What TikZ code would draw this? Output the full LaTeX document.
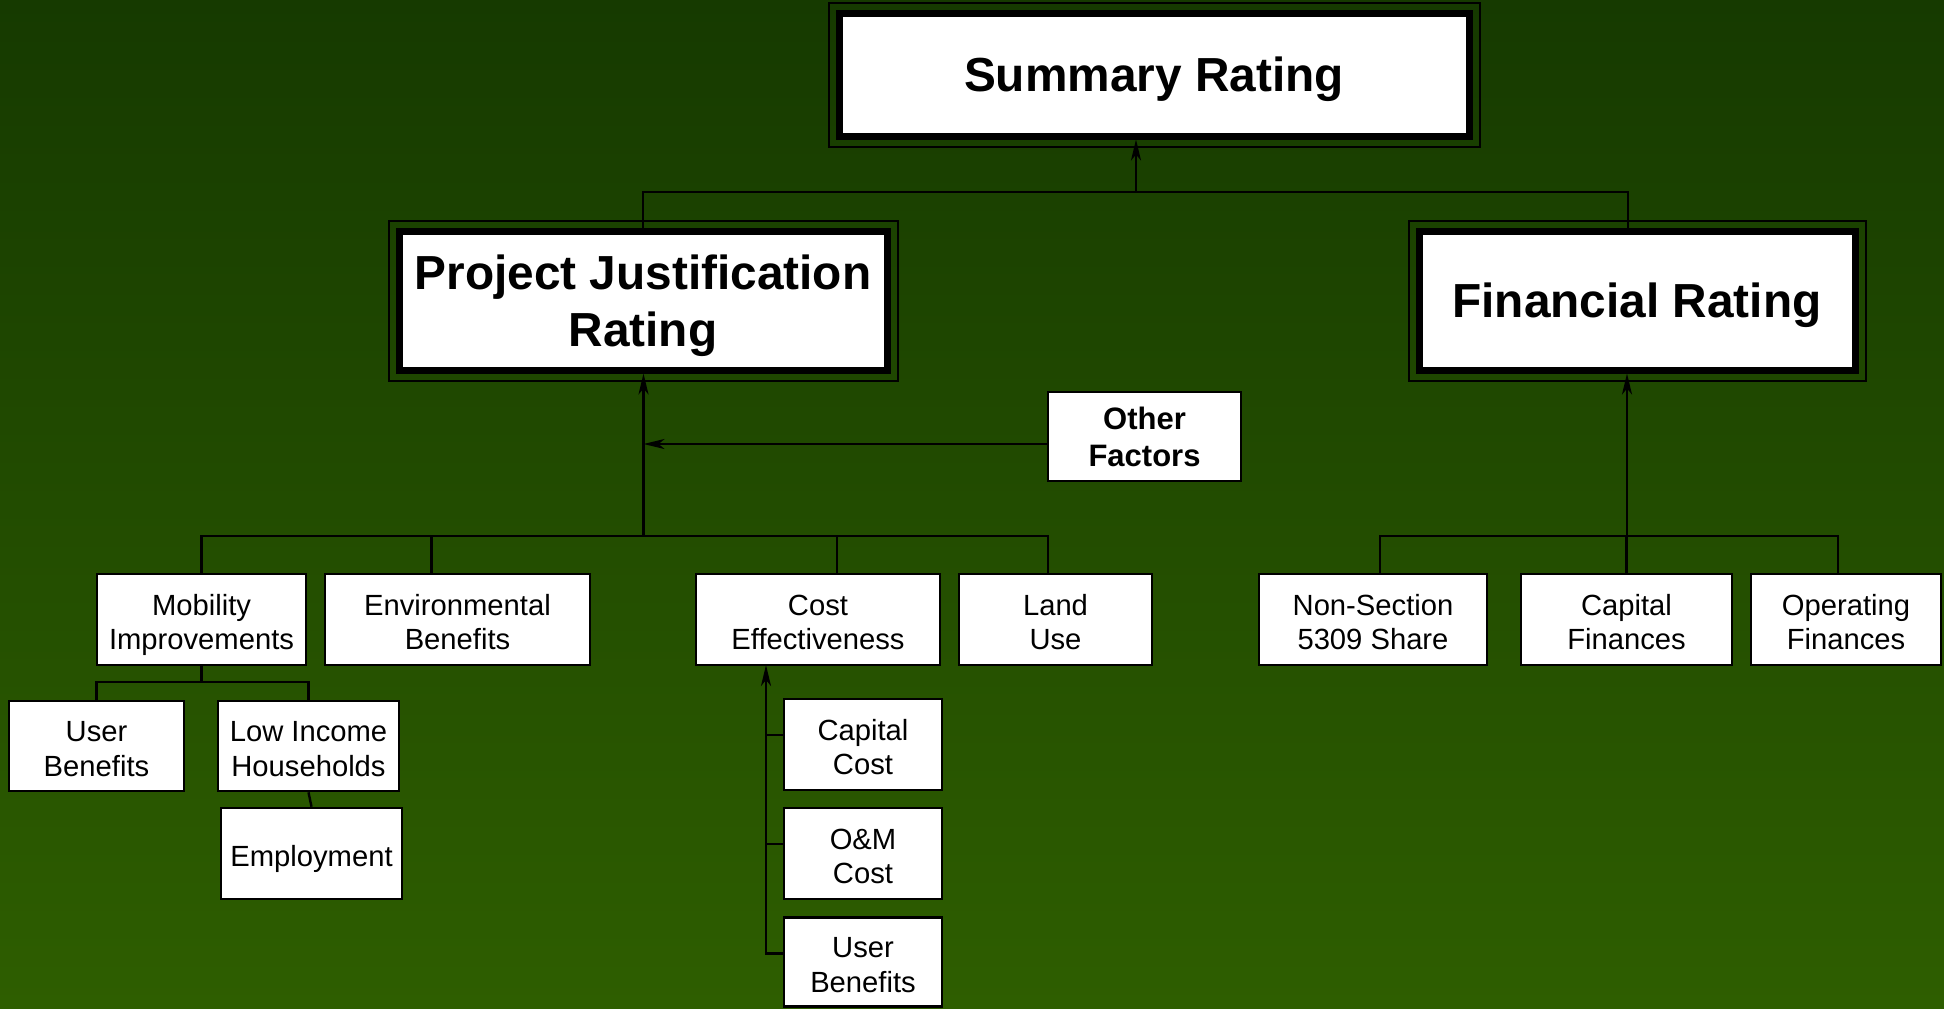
\documentclass[tikz,border=0pt]{standalone}
\usepackage{fontspec}
\setmainfont{Liberation Sans}
\usetikzlibrary{arrows.meta}
\definecolor{bgtop}{RGB}{22,58,0}
\definecolor{bgbottom}{RGB}{46,94,0}
\newcommand{\boxlines}[1]{\rule{0pt}{1.127em}#1\rule[-0.24em]{0pt}{0.24em}}
\newcommand{\titlelines}[1]{\rule{0pt}{0.956em}#1\rule[-0.24em]{0pt}{0.24em}}

\begin{document}
\begin{tikzpicture}[x=0.5pt,y=-0.5pt]
            \tikzset{box/.style = {shape=rectangle,draw,fill=white,line width=1.3pt,inner sep=0pt,align=center,
                    minimum height=45.5pt,font=\fontsize{14.6}{17.4}\selectfont}}
            \tikzset{bigbox/.style = {box,line width=3.5pt,minimum height=69.5pt,font=\bfseries\fontsize{23.9}{28.5}\selectfont}}
            \tikzset{frame/.style = {draw,line width=1pt}}
            \tikzset{link/.style = {line width=1.2pt}}
            \tikzset{edge/.style = {link,->,> = {Stealth[length=10.5pt,width=5pt,inset=3pt]}}}
            \useasboundingbox (0,0) rectangle (1944,1008);
            \shade[top color=bgtop,bottom color=bgbottom] (0,0) rectangle (1944,1008);

            \node[bigbox,minimum width=315pt,minimum height=61.5pt] (sum) at (1154,74.5) {\titlelines{Summary Rating}};
            \node[bigbox,minimum width=244pt] (pjr) at (643,300.5) {\titlelines{Project Justification\\Rating}};
            \node[bigbox,minimum width=218pt] (fr) at (1637,300.5) {\titlelines{Financial Rating}};
            \foreach \n in {sum,pjr,fr}
                \draw[frame] ([shift={(-7,-7)}]\n.north west) rectangle ([shift={(7,7)}]\n.south east);

            \node[box,minimum width=96.5pt,minimum height=44.5pt,font=\bfseries\fontsize{15.5}{18.5}\selectfont] (other) at (1144.5,436.5) {\titlelines{Other\\Factors}};

            \node[box,minimum width=104.5pt] (mob) at (201.5,619.5) {\boxlines{Mobility\\Improvements}};
            \node[box,minimum width=132.5pt] (env) at (457.5,619.5) {\boxlines{Environmental\\Benefits}};
            \node[box,minimum width=122pt] (cost) at (818,619.5) {\boxlines{Cost\\Effectiveness}};
            \node[box,minimum width=96.5pt] (land) at (1055.5,619.5) {\boxlines{Land\\Use}};
            \node[box,minimum width=114pt] (nonsec) at (1373,619.5) {\boxlines{Non-Section\\5309 Share}};
            \node[box,minimum width=105.5pt] (capfin) at (1626.5,619.5) {\boxlines{Capital\\Finances}};
            \node[box,minimum width=95pt] (opfin) at (1846,619.5) {\boxlines{Operating\\Finances}};

            \node[box,minimum width=87.5pt,minimum height=45pt] (user) at (96.5,746) {\boxlines{User\\Benefits}};
            \node[box,minimum width=90.5pt,minimum height=45pt] (lowinc) at (308.5,746) {\boxlines{Low Income\\Households}};
            \node[box,minimum width=90.5pt] (emp) at (311.5,853.5) {\boxlines{Employment}};
            \node[box,minimum width=79pt] (capcost) at (863,744.5) {\boxlines{Capital\\Cost}};
            \node[box,minimum width=79pt] (omcost) at (863,853.5) {\boxlines{O\&M\\Cost}};
            \node[box,minimum width=79pt,minimum height=44.5pt] (userb) at (863,962) {\boxlines{User\\Benefits}};

            \coordinate (topbus) at (1136,192);
            \coordinate (pjbus) at (643.5,536);
            \coordinate (frbus) at (1627,536);
            \coordinate (mobbus) at (203,682);
            \coordinate (costbus) at (766,665);

            \draw[link] (pjr.north) |- ([xshift=-4.5pt]fr.north |- topbus) -- ([xshift=-4.5pt]fr.north);
            \draw[edge] (topbus) -- (topbus |- sum.south);

            \draw[edge] (pjbus) -- (pjbus |- pjr.south);
            \draw[edge] ([yshift=-3.75pt]other.west) -- ([yshift=-3.75pt]other.west -| pjbus);
            \draw[link] (mob.north) |- ([xshift=-3.75pt]land.north |- pjbus) -- ([xshift=-3.75pt]land.north);
            \draw[link] ([xshift=-13pt]env.north) -- ([xshift=-13pt]env.north |- pjbus);
            \draw[link] ([xshift=9.5pt]cost.north) -- ([xshift=9.5pt]cost.north |- pjbus);

            \draw[edge] (frbus) -- (frbus |- fr.south);
            \draw[link] ([xshift=3.5pt]nonsec.north) |- ([xshift=-4pt]opfin.north |- frbus) -- ([xshift=-4pt]opfin.north);
            \draw[link] (capfin.north) -- (capfin.north |- frbus);

            \draw[link] (mob.south) -- (mob.south |- mobbus);
            \draw[link] (user.north) |- (lowinc.north |- mobbus) -- (lowinc.north);
            \draw[link] (lowinc.south) -- (emp.north);

            \draw[edge] ([yshift=4.25pt]userb.west) -| (costbus);
            \draw[link] ([yshift=4.75pt]capcost.west) -- ([yshift=4.75pt]capcost.west -| costbus);
            \draw[link] ([yshift=4.75pt]omcost.west) -- ([yshift=4.75pt]omcost.west -| costbus);
        \end{tikzpicture}
\end{document}
